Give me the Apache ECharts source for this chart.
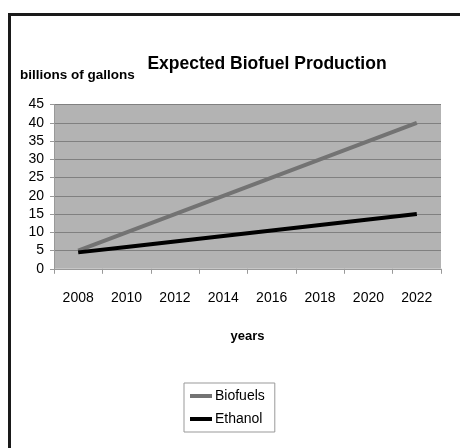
<!DOCTYPE html>
<html>
<head>
<meta charset="utf-8">
<script src="https://cdn.jsdelivr.net/npm/echarts@6/dist/echarts.min.js"></script>
<style>
html,body{margin:0;padding:0;background:#fff;}
#c{width:460px;height:448px;}
</style>
</head>
<body>
<div id="c"></div>
<script>
var years = ['2008','2010','2012','2014','2016','2018','2020','2022'];
var biofuels = [5, 10, 15, 20, 25, 30, 35, 40];
var ethanol = [4.5, 6, 7.5, 9, 10.5, 12, 13.5, 15];
var yTicks = [0, 45, 5];

var chart = echarts.init(document.getElementById('c'), null, {renderer:'canvas'});
var font = '"Liberation Sans", Arial, sans-serif';
chart.setOption({
  animation: false,
  backgroundColor: '#fff',
  textStyle: {fontFamily: font},
  title: {
    text: 'Expected Biofuel Production',
    left: 262, top: 50, textAlign: 'center',
    textStyle: {fontSize: 17.5, fontWeight: 'bold', color: '#000', fontFamily: font}
  },
  graphic: [
    {type: 'polyline', shape: {points: [[9.5,448],[9.5,14.5],[460,14.5]]},
     style: {stroke: '#1a1a1a', lineWidth: 3, fill: null}, silent: true},
    {type: 'text', left: 20, top: 68,
     style: {text: 'billions of gallons', font: 'bold 13.5px ' + font, fill: '#000'}}
  ],
  legend: {
    data: ['Biofuels', 'Ethanol'],
    orient: 'vertical',
    left: 184, top: 383,
    width: 90,
    padding: [6, 10, 6, 6],
    itemGap: 9,
    itemWidth: 22, itemHeight: 4,
    icon: 'rect',
    borderColor: '#999', borderWidth: 1,
    textStyle: {fontSize: 14, color: '#000', fontFamily: font, padding: [0,0,0,-2]}
  },
  grid: {
    left: 54, right: 19, top: 104.5, bottom: 179.2,
    show: true, backgroundColor: '#b3b3b3', borderWidth: 0
  },
  xAxis: {
    type: 'category',
    data: years,
    boundaryGap: true,
    name: 'years',
    nameLocation: 'middle',
    nameGap: 61,
    nameTextStyle: {fontSize: 13, fontWeight: 'bold', color: '#000', fontFamily: font},
    axisLine: {lineStyle: {color: '#999', width: 1}},
    axisTick: {show: true, length: 5, lineStyle: {color: '#999'}},
    axisLabel: {fontSize: 14, color: '#000', margin: 22, fontFamily: font},
    splitLine: {show: false}
  },
  yAxis: {
    type: 'value',
    min: yTicks[0], max: yTicks[1], interval: yTicks[2],
    axisLine: {show: true, lineStyle: {color: '#999', width: 1}},
    axisTick: {show: true, length: 4, lineStyle: {color: '#999'}},
    axisLabel: {fontSize: 14, color: '#000', margin: 10, fontFamily: font},
    splitLine: {show: true, lineStyle: {color: '#808080', width: 1}}
  },
  series: [
    {name: 'Biofuels', type: 'line', data: biofuels, showSymbol: false, symbol: 'none',
     lineStyle: {color: '#737373', width: 4}, itemStyle: {color: '#737373'}},
    {name: 'Ethanol', type: 'line', data: ethanol, showSymbol: false, symbol: 'none',
     lineStyle: {color: '#000', width: 4}, itemStyle: {color: '#000'}}
  ]
});
</script>
</body>
</html>
